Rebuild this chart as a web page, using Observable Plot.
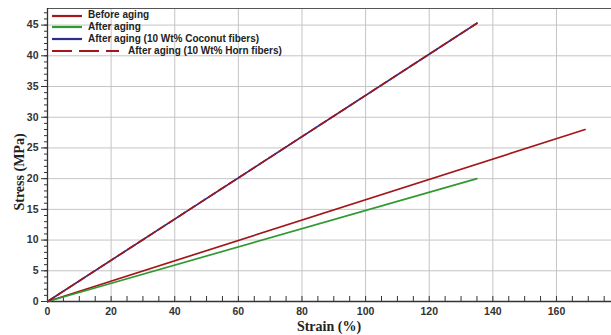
<!DOCTYPE html>
<html>
<head>
<meta charset="utf-8">
<script src="https://cdn.jsdelivr.net/npm/d3@7"></script>
<script src="https://cdn.jsdelivr.net/npm/@observablehq/plot@0.6"></script>
<style>
  html, body { margin: 0; padding: 0; background: #fff; }
  #wrap { position: relative; width: 611px; height: 335px; }
  #legend { position: absolute; left: 0; top: 0; font-family: Arial, "Liberation Sans", sans-serif; font-weight: bold; font-size: 10px; color: #222; }
  .ytitle { position: absolute; left: 20px; top: 172px; transform: translate(-50%, -50%) rotate(-90deg); font-family: "Liberation Serif", "Times New Roman", serif; font-weight: bold; font-size: 14px; color: #222; white-space: nowrap; }
  .xtitle { position: absolute; left: 329px; top: 327px; transform: translate(-50%, -50%); font-family: "Liberation Serif", "Times New Roman", serif; font-weight: bold; font-size: 14px; color: #222; white-space: nowrap; }
</style>
</head>
<body>
<div id="wrap"></div>
<script>
// Data (strain %, stress MPa)
const seriesNames = ["Before aging", "After aging", "After aging (10 Wt% Coconut fibers)", "After aging (10 Wt% Horn fibers)"];
const beforeStrain = [0, 169];
const beforeStress = [0, 28.0];
const afterStrain = [0, 135];
const afterStress = [0, 20.0];
const coconutStrain = [0, 135];
const coconutStress = [0, 45.3];
const hornStrain = [0, 135];
const hornStress = [0, 45.3];
const xMajorTicks = [0, 20, 40, 60, 80, 100, 120, 140, 160];
const xMinorTicks = d3.range(0, 180, 5);
const yMajorTicks = [0, 5, 10, 15, 20, 25, 30, 35, 40, 45];
const yMinorTicks = d3.range(0, 48, 1);

const colors = ["#a3161a", "#2f9a2f", "#2a2f8c", "#a3161a"];
const toRows = (xs, ys, name) => xs.map((x, i) => ({strain: x, stress: ys[i], name}));
const before = toRows(beforeStrain, beforeStress, seriesNames[0]);
const after = toRows(afterStrain, afterStress, seriesNames[1]);
const coconut = toRows(coconutStrain, coconutStress, seriesNames[2]);
const horn = toRows(hornStrain, hornStress, seriesNames[3]);

const chart = Plot.plot({
  width: 611,
  height: 335,
  marginLeft: 47,
  marginRight: 0,
  marginTop: 8,
  marginBottom: 34,
  style: {fontFamily: "Arial, 'Liberation Sans', sans-serif", fontSize: "10.5px", fontWeight: "bold", color: "#333", background: "#fff"},
  x: {domain: [0, 177.3], label: null},
  y: {domain: [0, 47.7], label: null},
  marks: [
    Plot.gridX(xMajorTicks.filter(d => d > 0), {stroke: "#c4c4c4", strokeOpacity: 1}),
    Plot.gridY(yMajorTicks.filter(d => d > 0), {stroke: "#c4c4c4", strokeOpacity: 1}),
    Plot.frame({anchor: "top", stroke: "#555", strokeWidth: 1.2}),
    Plot.axisY(yMinorTicks, {tickSize: 3, tickFormat: () => "", stroke: "#333"}),
    Plot.axisY(yMajorTicks, {tickSize: 6, tickPadding: 3, stroke: "#333", fill: "#333", label: null}),
    Plot.axisX(xMinorTicks, {tickSize: -5, tickFormat: () => "", stroke: "#333"}),
    Plot.axisX(xMajorTicks, {tickSize: 0, tickPadding: 6, fill: "#333", label: null}),
    Plot.ruleY([0], {stroke: "#333", strokeWidth: 1.3}),
    Plot.ruleX([0], {stroke: "#333", strokeWidth: 1.3}),
    Plot.line(before, {x: "strain", y: "stress", stroke: colors[0], strokeWidth: 1.7}),
    Plot.line(after, {x: "strain", y: "stress", stroke: colors[1], strokeWidth: 1.7}),
    Plot.line(coconut, {x: "strain", y: "stress", stroke: colors[2], strokeWidth: 1.7}),
    Plot.line(horn, {x: "strain", y: "stress", stroke: colors[3], strokeWidth: 1.7, strokeDasharray: "8,4"})
  ]
});

const wrap = document.getElementById("wrap");
wrap.appendChild(chart);

// Legend (top-left inside the plot)
const legend = document.createElement("div");
legend.id = "legend";
const rowsY = [15.5, 27, 39, 51];
seriesNames.forEach((name, i) => {
  const dashed = i === 3;
  const x1 = 52, x2 = dashed ? 119 : 82, tx = dashed ? 128 : 88;
  const svgNS = "http://www.w3.org/2000/svg";
  const svg = document.createElementNS(svgNS, "svg");
  svg.setAttribute("width", 140); svg.setAttribute("height", 6);
  svg.style.position = "absolute"; svg.style.left = "0px"; svg.style.top = (rowsY[i] - 3) + "px";
  const ln = document.createElementNS(svgNS, "line");
  ln.setAttribute("x1", x1); ln.setAttribute("x2", x2); ln.setAttribute("y1", 3); ln.setAttribute("y2", 3);
  ln.setAttribute("stroke", colors[i]); ln.setAttribute("stroke-width", 2.2);
  if (dashed) ln.setAttribute("stroke-dasharray", "20,7");
  svg.appendChild(ln);
  legend.appendChild(svg);
  const t = document.createElement("div");
  t.textContent = name;
  t.style.position = "absolute"; t.style.left = tx + "px"; t.style.top = (rowsY[i] - 6.5) + "px";
  t.style.whiteSpace = "nowrap"; t.style.lineHeight = "12px";
  legend.appendChild(t);
});
wrap.appendChild(legend);

const yt = document.createElement("div"); yt.className = "ytitle"; yt.textContent = "Stress (MPa)"; wrap.appendChild(yt);
const xt = document.createElement("div"); xt.className = "xtitle"; xt.textContent = "Strain (%)"; wrap.appendChild(xt);
</script>
</body>
</html>
